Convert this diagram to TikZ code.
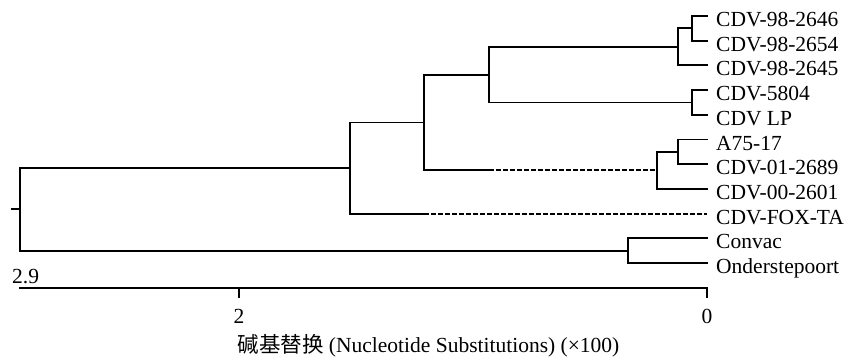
\documentclass[tikz,border=0pt]{standalone}
\usepackage{fontspec}
\setmainfont{Liberation Serif}
\newfontfamily\cjk{Noto Sans CJK SC}
\begin{document}
\begin{tikzpicture}[x=1pt,y=-1pt,
  br/.style={line width=1.9pt,line cap=rect},
  dsh/.style={line width=1.9pt,dash pattern=on 4.5pt off 2.5pt},
  lab/.style={anchor=base west,inner sep=0pt,font=\fontsize{21.5}{24}\selectfont},
  num/.style={anchor=base,inner sep=0pt,font=\fontsize{21.5}{24}\selectfont}]
\useasboundingbox (0,0) rectangle (847,359);
% leaf tips
\foreach \i/\y in {1/16,2/40.7,3/65.4,4/90.1,5/114.8,6/139.5,7/164.2,8/188.9,9/213.6,10/238.3,11/263}
  \coordinate (t\i) at (707,\y);
% leaf labels
\node[lab] (L1) at (716,26.5) {CDV-98-2646};
\node[lab] (L2) at (716,51.2) {CDV-98-2654};
\node[lab] (L3) at (716,75.9) {CDV-98-2645};
\node[lab] (L4) at (716,100.6) {CDV-5804};
\node[lab] (L5) at (716,125.3) {CDV LP};
\node[lab] (L6) at (716,150) {A75-17};
\node[lab] (L7) at (716,174.7) {CDV-01-2689};
\node[lab] (L8) at (716,199.4) {CDV-00-2601};
\node[lab] (L9) at (716,224.1) {CDV-FOX-TA};
\node[lab] (L10) at (716,248.8) {Convac};
\node[lab] (L11) at (716,273.5) {Onderstepoort};
% internal nodes
\coordinate (n1) at (692,28.35);
\coordinate (n2) at (678,46.9);
\coordinate (n3) at (692,102.45);
\coordinate (n4) at (489,74.7);
\coordinate (n5) at (678,151.85);
\coordinate (n6) at (657,170.4);
\coordinate (n7) at (424,122.5);
\coordinate (n8) at (350,168);
\coordinate (n9) at (628,250.65);
\coordinate (root) at (20,209.3);
\coordinate (stub) at (12,209.3);
\coordinate (b1) at (489,170.4);
\coordinate (b2) at (424,213.6);
% branches
\draw[br] (n1) |- (t1); \draw[br] (n1) |- (t2);
\draw[br] (n2) |- (n1); \draw[br] (n2) |- (t3);
\draw[br] (n3) |- (t4); \draw[br] (n3) |- (t5);
\draw[br] (n4) |- (n2); \draw[br] (n4) |- (n3);
\draw[br] (n5) |- (t6); \draw[br] (n5) |- (t7);
\draw[br] (n6) |- (n5); \draw[br] (n6) |- (t8);
\draw[br] (n7) |- (n4); \draw[br] (n7) |- (b1);
\draw[dsh] (b1) -- (n6);
\draw[br] (n8) |- (n7); \draw[br] (n8) |- (b2);
\draw[dsh] (b2) -- (t9);
\draw[br] (n9) |- (t10); \draw[br] (n9) |- (t11);
\draw[br] (root) |- (n8); \draw[br] (root) |- (n9);
\draw[br] (stub) -- (root);
% scale bar
\coordinate (s0) at (20,288);
\coordinate (s1) at (707,288);
\coordinate (k2) at (239,288);
\coordinate (k2b) at (239,297);
\coordinate (k0b) at (707,297);
\draw[br] (s0) -- (s1) -- (k0b);
\draw[br] (k2) -- (k2b);
\node[anchor=base west,inner sep=0pt,font=\fontsize{21.5}{24}\selectfont] (sc) at (12,283) {2.9};
\node[num] (a2) at (239,323) {2};
\node[num] (a0) at (707,323) {0};
\node[num] (title) at (428.5,352) {{\cjk 碱基替换} (Nucleotide Substitutions) (×100)};
\end{tikzpicture}
\end{document}
